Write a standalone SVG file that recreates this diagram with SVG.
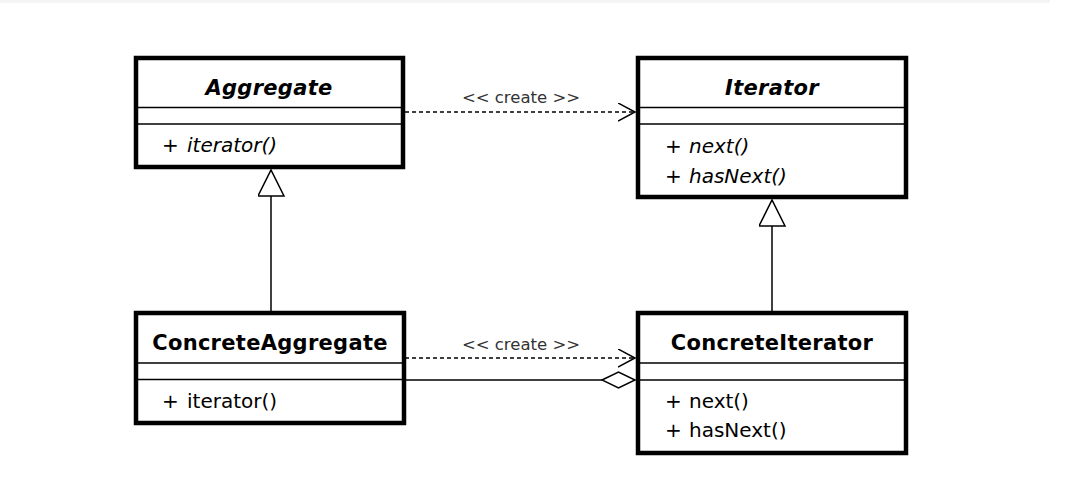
<svg xmlns="http://www.w3.org/2000/svg" width="1085" height="479" viewBox="0 0 1085 479">
<style>
.box{fill:#fff;stroke:#000;stroke-width:4.5}
.div{stroke:#000;stroke-width:1.5}
.title{font-family:"DejaVu Sans",sans-serif;font-size:21px;font-weight:bold;text-anchor:middle;fill:#000;letter-spacing:0.3px}
.abs{font-style:italic}
.m{font-family:"DejaVu Sans",sans-serif;font-size:20px;fill:#000}
.mi{font-style:italic}
.lbl{font-family:"DejaVu Sans",sans-serif;font-size:16.5px;fill:#333;text-anchor:middle}
.conn{stroke:#000;stroke-width:1.5;fill:none}
.dash{stroke-dasharray:4,3}
</style>
<defs>
<marker id="open" markerUnits="userSpaceOnUse" markerWidth="20" markerHeight="20" refX="17" refY="9" orient="auto">
<path d="M0,0 L17,9 L0,18" fill="none" stroke="#000" stroke-width="1.5"/>
</marker>
<marker id="tri" markerUnits="userSpaceOnUse" markerWidth="30" markerHeight="30" refX="27" refY="13" orient="auto">
<path d="M1,0 L27,13 L1,26 Z" fill="#fff" stroke="#000" stroke-width="1.5"/>
</marker>
<marker id="dia" markerUnits="userSpaceOnUse" markerWidth="36" markerHeight="20" refX="34" refY="9" orient="auto">
<path d="M1,9 L17.5,1 L34,9 L17.5,17 Z" fill="#fff" stroke="#000" stroke-width="1.5"/>
</marker>
</defs>
<rect x="0" y="0" width="1050" height="3" fill="#f5f5f5"/>
<g id="connectors">
<line class="conn" x1="271" y1="312" x2="271" y2="170" marker-end="url(#tri)"/>
<line class="conn" x1="772" y1="312" x2="772" y2="200" marker-end="url(#tri)"/>
<line class="conn dash" x1="405" y1="112" x2="635" y2="112" marker-end="url(#open)"/>
<text class="lbl" x="521" y="103">&lt;&lt; create &gt;&gt;</text>
<line class="conn dash" x1="405" y1="358" x2="635" y2="358" marker-end="url(#open)"/>
<text class="lbl" x="521" y="350">&lt;&lt; create &gt;&gt;</text>
<line class="conn" x1="405" y1="380" x2="635" y2="380" marker-end="url(#dia)"/>
</g>
<g id="Aggregate">
<rect class="box" x="136" y="58" width="267" height="109"/>
<line class="div" x1="136" y1="107.5" x2="403" y2="107.5"/>
<line class="div" x1="136" y1="124" x2="403" y2="124"/>
<text class="title abs" x="269" y="95">Aggregate</text>
<text class="m" x="162" y="152">+<tspan class="mi" x="187">iterator()</tspan></text>
</g>
<g id="Iterator">
<rect class="box" x="638" y="58" width="268" height="139"/>
<line class="div" x1="638" y1="107.5" x2="906" y2="107.5"/>
<line class="div" x1="638" y1="124" x2="906" y2="124"/>
<text class="title abs" x="772" y="95">Iterator</text>
<text class="m" x="665" y="153">+<tspan class="mi" x="689">next()</tspan></text>
<text class="m" x="665" y="183">+<tspan class="mi" x="689">hasNext()</tspan></text>
</g>
<g id="ConcreteAggregate">
<rect class="box" x="136" y="313" width="268" height="110"/>
<line class="div" x1="136" y1="363" x2="404" y2="363"/>
<line class="div" x1="136" y1="379.5" x2="404" y2="379.5"/>
<text class="title" x="270" y="350">ConcreteAggregate</text>
<text class="m" x="162" y="408">+<tspan x="187">iterator()</tspan></text>
</g>
<g id="ConcreteIterator">
<rect class="box" x="638" y="313" width="268" height="140"/>
<line class="div" x1="638" y1="363" x2="906" y2="363"/>
<line class="div" x1="638" y1="380" x2="906" y2="380"/>
<text class="title" x="772" y="350">ConcreteIterator</text>
<text class="m" x="665" y="408">+<tspan x="689">next()</tspan></text>
<text class="m" x="665" y="437">+<tspan x="689">hasNext()</tspan></text>
</g>
</svg>
